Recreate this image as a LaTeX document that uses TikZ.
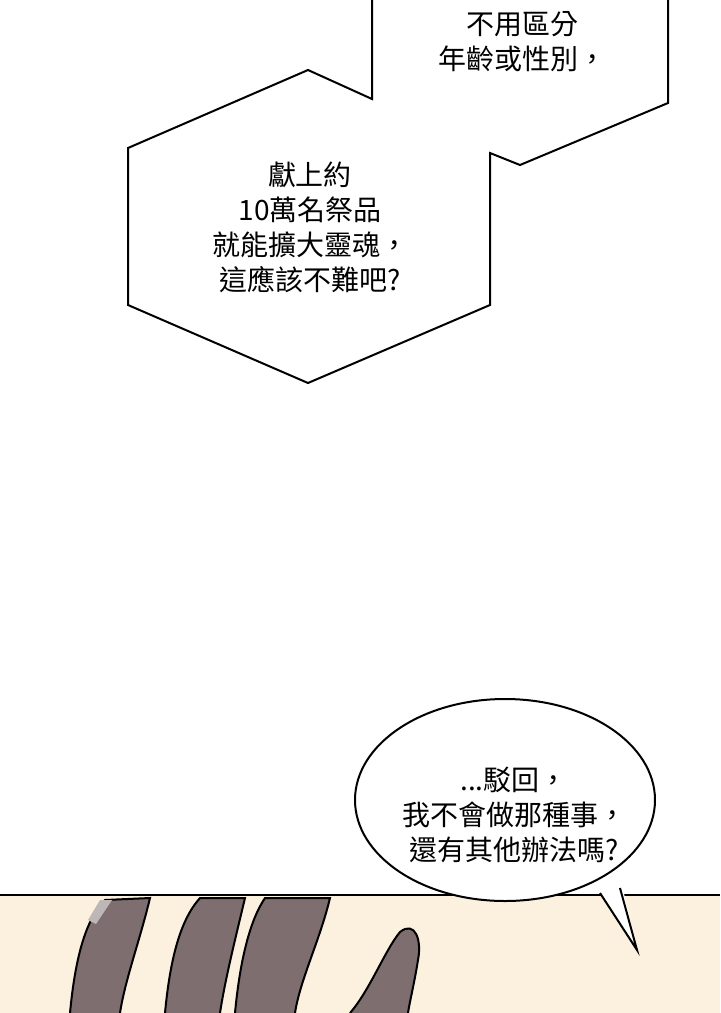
\documentclass[tikz,border=0pt]{standalone}
\usepackage{fontspec}
\usetikzlibrary{shapes.geometric}
\newfontfamily\cjk{Noto Sans CJK TC}
\definecolor{skin}{HTML}{FCF1DF}
\definecolor{finger}{HTML}{7E6E70}
\tikzset{
  bubble/.style={draw=black, line width=1pt, fill=white, line join=miter},
  says/.style={font=\cjk\fontsize{14}{17.5}\selectfont, align=center, text=black},
  digit/.style={draw=black, line width=1pt, fill=finger},
}
\begin{document}
\begin{tikzpicture}[x=0.5pt, y=-0.5pt]
  \useasboundingbox (0,0) rectangle (720,1013);
  % background and table
  \fill[white] (0,0) rectangle (720,1013);
  \fill[skin] (0,895) rectangle (720,1013);
  \draw[line width=1pt] (0,895) -- (720,895);
  % fingers
  \draw[digit] (70,1013) .. controls (75,960) and (85,920) .. (105,900)
    -- (150,898) .. controls (140,940) and (125,980) .. (120,1013);
  \fill[finger!50!white] (88,920) -- (100,900) -- (112,900) -- (96,924) -- cycle;
  \draw[digit] (165,1013) .. controls (170,960) and (180,920) .. (200,898)
    -- (245,898) .. controls (235,940) and (225,980) .. (220,1013);
  \draw[digit] (235,1013) .. controls (240,960) and (250,920) .. (265,898)
    -- (330,898) .. controls (320,940) and (300,980) .. (295,1013);
  \draw[digit] (350,1013) .. controls (370,990) and (385,950) .. (400,932)
    .. controls (415,920) and (422,940) .. (418,960)
    .. controls (414,985) and (410,1000) .. (408,1013);
  % speech bubbles
  \node (talk) [bubble, ellipse, minimum width=150pt, minimum height=101pt, inner sep=0pt] at (505,800) {};
  \coordinate (tip) at (637,950);
  \fill[white] (598,890) -- (tip) -- (622,885) -- cycle;
  \draw[line width=1pt] (600,893) -- (tip) -- (620,888);
  \draw[bubble] (372,-5) -- (372,99) -- (308,70) -- (128,148) -- (128,305)
    -- (308,383) -- (490,305) -- (490,153) -- (520,165) -- (668,103) -- (668,-5);
  % texts
  \node (top) [says] at (522,42) {不用區分\\年齡或性別，};
  \node (offer) [says] at (310,227) {獻上約\\10萬名祭品\\就能擴大靈魂，\\這應該不難吧?};
  \node (refuse) [says] at (514,815) {...駁回，\\我不會做那種事，\\還有其他辦法嗎?};
\end{tikzpicture}
\end{document}
